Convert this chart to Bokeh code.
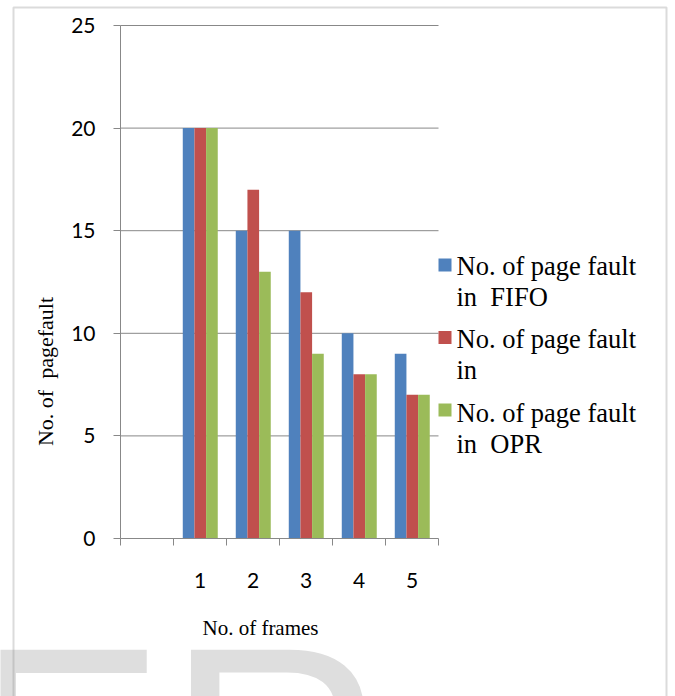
from bokeh.plotting import figure
from bokeh.models import FixedTicker, Label, BoxAnnotation, Range1d, LinearAxis
from bokeh.embed import file_html
from bokeh.resources import INLINE

# ---- data ----
frames = ["1", "2", "3", "4", "5"]
fifo = [20, 15, 15, 10, 9]
lru = [20, 17, 12, 8, 7]
opr = [20, 13, 9, 8, 7]
series_names = ["No. of page fault\nin\u00a0 FIFO", "No. of page fault\nin", "No. of page fault\nin\u00a0 OPR"]
colors = ["#4F81BD", "#C0504D", "#9BBB59"]
y_ticks = [0, 5, 10, 15, 20, 25]
x_title = "No. of frames"
y_title = "No. of\u00a0 pagefault"
watermark = "ER"

GRAY = "#888888"
W, H = 675, 696
# plot area in canvas pixels
PX0, PX1, PY_TOP, PY_BOT = 120, 438, 25, 538
NX, YMAX = len(frames) + 1, 25
sx = (PX1 - PX0) / NX
sy = (PY_BOT - PY_TOP) / YMAX

p = figure(width=W, height=H, output_backend="svg", toolbar_location=None,
           x_range=Range1d(-PX0 / sx, (W - PX0) / sx),
           y_range=Range1d(-(H - PY_BOT) / sy, YMAX + PY_TOP / sy),
           x_axis_type=None, y_axis_type=None, min_border=0)
p.outline_line_color = None
p.background_fill_color = "white"
p.border_fill_color = "white"

# watermark
p.add_layout(Label(x=-38, y=H - 583, x_units="screen", y_units="screen", text=watermark,
                   text_font="Liberation Sans", text_font_size="305px", text_color="#dedede",
                   text_baseline="top", text_align="left"))

# grid lines
p.segment(x0=0, x1=NX, y0=y_ticks[1:], y1=y_ticks[1:], line_color=GRAY, line_width=1)

# bars
series = [fifo, lru, opr]
offsets = [-0.215, 0.005, 0.225]
centers = [i + 1.5 for i in range(len(frames))]
for vals, off, col in zip(series, offsets, colors):
    p.vbar(x=[c + off for c in centers], top=vals, bottom=0, width=0.22,
           fill_color=col, line_color=None)

# axes
xaxis = LinearAxis(fixed_location=0, bounds=(0, NX))
xaxis.ticker = FixedTicker(ticks=centers, minor_ticks=list(range(0, NX + 1)))
xaxis.major_label_overrides = {c: f for c, f in zip(centers, frames)}
xaxis.major_tick_line_color = None
xaxis.major_tick_out = 7
xaxis.major_tick_in = 0
xaxis.minor_tick_line_color = GRAY
xaxis.minor_tick_out = 7
xaxis.minor_tick_in = 0
xaxis.axis_line_color = GRAY
xaxis.major_label_standoff = 27
xaxis.major_label_text_font = "Lato"
xaxis.major_label_text_font_size = "21px"
xaxis.major_label_text_color = "black"
p.add_layout(xaxis, "below")

yaxis = LinearAxis(fixed_location=0, bounds=(0, YMAX))
yaxis.ticker = FixedTicker(ticks=y_ticks, minor_ticks=[])
yaxis.major_tick_line_color = GRAY
yaxis.major_tick_out = 7
yaxis.major_tick_in = 0
yaxis.minor_tick_line_color = None
yaxis.axis_line_color = GRAY
yaxis.major_label_standoff = 18
yaxis.major_label_text_font = "Lato"
yaxis.major_label_text_font_size = "21px"
yaxis.major_label_text_color = "black"
p.add_layout(yaxis, "left")

# axis titles
p.add_layout(Label(x=45, y=H - 371, x_units="screen", y_units="screen", text=y_title,
                   angle=1.5707963, text_align="center", text_baseline="middle",
                   text_font="Liberation Serif", text_font_size="22px", text_color="black"))
p.add_layout(Label(x=260, y=H - 627, x_units="screen", y_units="screen", text=x_title,
                   text_align="center", text_baseline="middle",
                   text_font="Liberation Serif", text_font_size="21px", text_color="black"))

# legend (manual)
for i, (name, col) in enumerate(zip(series_names, colors)):
    top_c = 258 + 72.5 * i
    p.add_layout(BoxAnnotation(left=438, right=451, top=H - top_c, bottom=H - top_c - 13,
                               left_units="screen", right_units="screen",
                               top_units="screen", bottom_units="screen",
                               fill_color=col, fill_alpha=1, line_color=None))
    for j, line in enumerate(name.split("\n")):
        base_c = 265 + 73.5 * i + 31 * j
        p.add_layout(Label(x=456, y=H - base_c, x_units="screen", y_units="screen",
                           text=line, text_align="left", text_baseline="alphabetic",
                           text_font="Liberation Serif", text_font_size="26.5px",
                           text_color="black"))

# outer border
p.add_layout(BoxAnnotation(left=13, right=666, top=H - 7, bottom=-50,
                           left_units="screen", right_units="screen",
                           top_units="screen", bottom_units="screen",
                           fill_color=None, fill_alpha=0, line_color=GRAY, line_width=2))

open("out.html", "w").write(file_html(p, INLINE))
